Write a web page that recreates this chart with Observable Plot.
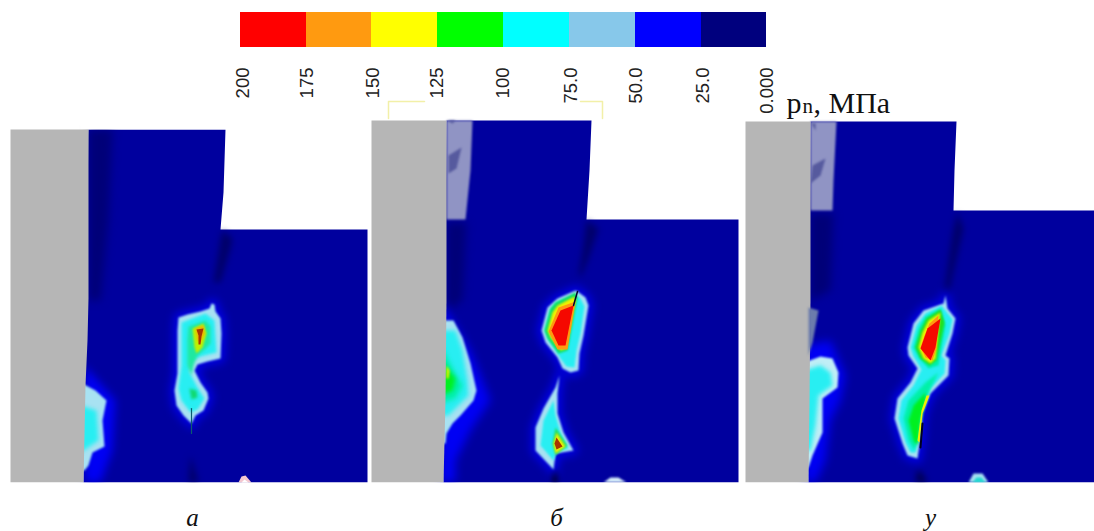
<!DOCTYPE html>
<html><head><meta charset="utf-8">
<script src="https://cdn.jsdelivr.net/npm/d3@7"></script>
<script src="https://cdn.jsdelivr.net/npm/@observablehq/plot@0.6"></script>
<style>html,body{margin:0;background:#fff}svg{display:block}</style>
</head><body><div id="c"></div>
<script>
const legendEdges=[240,306,371,437,503,569,635,701,766];
const legendColors=["#ff0000","#ff9a10","#ffff00","#00ff00","#00ffff","#87c8ea","#0000ff","#00007e"];
const legendLabels=["200","175","150","125","100","75.0","50.0","25.0","0.000"];
const legendLabelX=[243,306.5,373,437,503,571,636,703,767];
const captions=["а","б","у"];
const captionX=[192,556,930];

const BASE="#00009e",DARK="#00006a",BANDC="#000078",MID="#0000e0",GREY="#b6b6b6",PATCH="#9094c4",PATCH2="#565a9e",
LIGHT="#a8e2f2",CYAN="#28eef2",TEAL="#00f0a8",GREEN="#00f020",YEL="#f0f000",OR="#ff9a10",RED="#f50800",DRED="#a83400";

// panel а
const aBlue=[[88,129],[225,129],[223,192],[220,229],[367,229],[367,482],[83,482]];
const aGrey=[[10,129],[88,129],[88,298],[87,340],[85,385],[83,482],[10,482]];
const aBand=[[88,129],[112,129],[108,220],[100,300],[88,300]];
const aTopMask=[[80,105],[240,105],[240,129],[80,129]];
const aSeam=[[222,230],[232,238],[230,248],[220,282],[213,282],[217,258],[220,238]];
const aSeam2=[[190,455],[198,482],[188,482]];
const aCrack=[[191,408],[191,433]];
const aEdgeHalo=[[84,365],[115,400],[112,450],[100,482],[84,482]];
const aEdgeLight=[[80,382],[95,390],[106,400],[102,420],[104,446],[92,452],[88,465],[84,470],[80,470]];
const aEdgeCyan=[[80,405],[96,410],[98,440],[80,452]];
const aOuter=[[178,317],[187,314],[200,311],[209,308],[211,303],[214,304],[215,311],[220,318],[221,333],[220,358],[207,361],[197,364],[194,370],[200,382],[207,392],[208,398],[203,410],[195,415],[191,423],[183,415],[176,405],[174,390],[177,373],[177,350],[177,330]];
const aCyan=[[181,322],[205,313],[214,320],[216,352],[200,356],[190,360],[189,372],[197,387],[204,398],[197,409],[190,412],[181,400],[178,388],[181,365],[181,340]];
const aGreen=[[188,326],[205,320],[210,326],[210,343],[203,350],[197,355],[193,365],[191,375],[187,365],[187,340]];
const aGreen2=[[189,388],[196,390],[197,397],[191,399]];
const aYellow=[[192,328],[203,323],[206,333],[202,347],[196,353],[194,347]];
const aOrange=[[195,328],[203,325],[204,333],[200,342],[197,340]];
const aRed=[[196,329],[203,328],[201,336],[200,344],[198,344],[198,335]];
const aSpot=[[238,482],[241,476],[245,475],[251,482]];
const aSpot2=[[241,482],[244,479],[248,482]];

// panel б
const bBlue=[[446,120],[591,120],[589,170],[586,219],[738,219],[738,482],[443,482]];
const bGrey=[[371,120],[446,120],[446,300],[445,400],[443,482],[371,482]];
const bPatch=[[446,120],[472,120],[470,170],[465,219],[446,219]];
const bPatchDark=[[448,155],[461,147],[456,168],[448,173]];
const bPatchDark2=[[447,120],[455,120],[452,123]];
const bBand=[[446,222],[466,222],[462,300],[446,310]];
const bSeam=[[586,220],[598,228],[588,258],[581,275],[578,275],[583,245]];
const bSeam2=[[551,469],[557,469],[558,482],[551,482]];
const bEdgeHalo=[[440,300],[470,350],[490,400],[470,430],[455,460],[455,482],[440,482]];
const bEdgeLight=[[453,320],[462,337],[470,363],[476,390],[473,400],[460,415],[452,423],[446,433],[445,443],[440,443],[440,320]];
const bEdgeCyan=[[455,330],[462,350],[467,380],[468,395],[458,405],[448,415],[440,415],[440,330]];
const bEdgeTeal=[[440,345],[456,375],[462,385],[455,398],[440,403]];
const bEdgeGreen=[[440,360],[455,378],[452,390],[440,395]];
const bEdgeYellow=[[446,365],[449,370],[448,378],[446,378]];
const bOuter=[[575,290],[557,298],[547,307],[541,330],[545,342],[557,357],[562,368],[570,372],[578,370],[579,353],[583,335],[588,305],[585,297],[577,291]];
const bCyan=[[574,294],[555,302],[549,310],[544,330],[548,340],[560,358],[566,366],[574,367],[576,350],[580,333],[584,306],[580,298]];
const bGreen=[[575,292],[555,302],[550,308],[544,330],[547,338],[558,353],[567,350],[577,297]];
const bYellow=[[574,296],[557,305],[552,312],[547,330],[550,337],[560,350],[566,348],[575,300]];
const bOrange=[[558,307],[575,301],[567,349],[557,349],[548,331]];
const bRed=[[560,310],[573,305],[565,345],[558,345],[551,330]];
const bCrack=[[577,291],[573,305]];
const bLowOuter=[[559,375],[555,387],[543,408],[535,427],[535,450],[553,469],[555,453],[573,450],[563,432],[557,413],[557,393]];
const bLowCyan=[[553,400],[543,420],[540,445],[553,460],[556,451],[568,448],[560,432],[555,415]];
const bLowGreen=[[555,427],[567,445],[555,455],[552,443]];
const bLowYellow=[[556,432],[565,446],[555,453],[553,443]];
const bLowRed=[[556,437],[562,446],[556,449],[554,443]];
const bSpot=[[603,482],[610,477],[618,477],[626,482]];

// panel у
const cBlue=[[810,121],[956,121],[954,170],[953,210],[1094,210],[1094,482],[808,482]];
const cGrey=[[745,121],[810,121],[810,300],[809,400],[808,482],[745,482]];
const cPatch=[[810,121],[836,121],[833,180],[832,210],[810,210]];
const cPatchDark=[[812,165],[825,158],[820,175],[810,183]];
const cPatchDark2=[[811,123],[815,123],[815,130]];
const cBand=[[810,213],[833,213],[830,290],[810,300]];
const cSeam=[[957,212],[963,228],[947,298],[943,295],[952,232]];
const cSeam2=[[918,468],[927,482],[915,482]];
const cEdgeHalo=[[804,345],[830,340],[845,375],[840,400],[830,420],[825,460],[815,482],[804,482]];
const cEdgeLight=[[804,362],[820,356],[832,358],[838,372],[837,387],[822,398],[822,432],[812,455],[808,467],[804,467]];
const cEdgeCyan=[[804,370],[820,365],[830,372],[832,385],[818,395],[815,425],[810,450],[804,450]];
const cGreySpot=[[808,307],[818,310],[812,342],[808,355]];
const cOuter=[[945,295],[943,303],[923,310],[913,323],[907,347],[908,355],[917,368],[910,382],[897,398],[894,418],[902,443],[907,455],[917,458],[920,437],[922,413],[930,393],[948,375],[949,358],[945,355],[952,333],[955,318],[947,308]];
const cCyan=[[941,305],[925,313],[916,325],[910,347],[913,356],[921,369],[913,385],[901,400],[898,418],[905,442],[910,452],[915,452],[918,436],[920,412],[930,388],[944,373],[945,360],[941,355],[949,333],[952,319]];
const cTeal=[[925,382],[908,400],[903,418],[908,440],[914,450],[918,436],[920,412],[930,388],[938,372]];
const cTeal2=[[940,308],[925,316],[918,328],[913,347],[918,357],[928,368],[938,365],[945,325]];
const cGreen=[[925,392],[913,405],[908,420],[913,440],[917,445],[920,420],[925,400]];
const cYellowLow=[[926,395],[921,410],[917,440],[919,442],[922,413],[929,395]];
const cGreenUp=[[940,309],[926,318],[920,330],[915,347],[920,358],[929,365],[936,360],[944,322]];
const cYellow=[[940,312],[928,320],[922,332],[918,347],[923,358],[930,363],[935,358]];
const cOrange=[[938,315],[929,323],[924,335],[920,347],[925,357],[932,360],[936,348]];
const cRed=[[940,318],[927,328],[920,348],[930,360],[935,347]];
const cCrack=[[922,423],[920,447]];
const cSpot=[[968,482],[973,473],[982,473],[988,482]];
const cSpot2=[[972,482],[976,477],[981,477],[985,482]];

const bracket1=[[388,118],[388,101],[424,101]];
const bracket2=[[580,101],[602,101],[602,118]];
const pageBand=[[0,482],[1094,482],[1094,531],[0,531]];

const area=(pts,fill,blur=0.8,extra={})=>Plot.line(pts,{x:d=>d[0],y:d=>d[1],curve:"linear-closed",fill,stroke:extra.stroke||"none",strokeWidth:extra.sw||0,imageFilter:blur?`blur(${blur}px)`:undefined});
const halo=pts=>area(pts,MID,4,{stroke:MID,sw:10});
const stroke=(pts,color,w)=>Plot.line(pts,{x:d=>d[0],y:d=>d[1],stroke:color,strokeWidth:w,imageFilter:"blur(0.5px)"});
const label=(t,x,y,size,family)=>Plot.text([t],{x:()=>x,y:()=>y,text:d=>d,textAnchor:"start",fontFamily:family,fontSize:size,fill:"#111"});

const plot=Plot.plot({
  width:1094,height:531,margin:0,
  x:{domain:[0,1094],range:[0,1094],axis:null},
  y:{domain:[0,531],range:[0,531],axis:null},
  marks:[
    // panels: base
    area(aBlue,BASE,0.5),area(bBlue,BASE,0.5),area(cBlue,BASE,0.5),
    area(aBand,BANDC,4),area(bBand,BANDC,4),area(cBand,BANDC,4),
    area(aTopMask,"#ffffff",0),
    area(aSeam,DARK,3),area(bSeam,DARK,3),area(cSeam,DARK,3),
    area(aSeam2,DARK,3),area(bSeam2,"#00004a",2),area(cSeam2,"#00004a",3),
    // panel а hot spots
    area(aEdgeHalo,"#0000f4",4),area(aEdgeLight,LIGHT),area(aEdgeCyan,CYAN,2),
    halo(aOuter),area(aOuter,LIGHT),area(aCyan,CYAN,1.5),area(aGreen,"#20e8a0",1.5),area(aGreen2,"#10d870",1.5),area(aYellow,"#c0f000",1.2),area(aOrange,"#f0b000",1),area(aRed,DRED,0.7),
    stroke(aCrack,"#0a5a70",1.2),
    area(aSpot,"#f4c8d0",0.6),area(aSpot2,"#ffffff",0.6),
    // panel б hot spots
    area(bEdgeHalo,"#0000f4",5),area(bEdgeLight,LIGHT),area(bEdgeCyan,CYAN,2),area(bEdgeTeal,TEAL,2.5),area(bEdgeGreen,GREEN,2),area(bEdgeYellow,YEL,1),
    halo(bOuter),halo(bLowOuter),
    area(bOuter,LIGHT),area(bCyan,CYAN,1),area(bGreen,"#10e060",0.8),area(bYellow,YEL,0.8),area(bOrange,OR,0.6),area(bRed,RED,0.6),stroke(bCrack,"#000030",1.5),
    area(bLowOuter,LIGHT),area(bLowCyan,CYAN,1.2),area(bLowGreen,"#20e060",0.8),area(bLowYellow,YEL,0.8),area(bLowRed,DRED,0.7),
    area(bSpot,"#d8f0fa",0.8),
    // panel у hot spots
    area(cEdgeHalo,"#0000f4",5),area(cEdgeLight,"#c0eef6"),area(cEdgeCyan,CYAN,2),
    halo(cOuter),area(cOuter,LIGHT),area(cCyan,CYAN,1.2),area(cTeal,TEAL,1.5),area(cTeal2,TEAL,1),area(cGreen,GREEN,1.5),area(cYellowLow,YEL,0.7),
    area(cGreenUp,"#20e020",0.8),area(cYellow,YEL,0.8),area(cOrange,OR,0.7),area(cRed,RED,0.7),stroke(cCrack,"#000020",2),
    area(cSpot,LIGHT,0.8),area(cSpot2,"#20d8d0",0.8),
    // patches and greys
    area(bPatch,PATCH),area(bPatchDark,PATCH2,1),area(bPatchDark2,PATCH2,1),
    area(cPatch,PATCH),area(cPatchDark,PATCH2,1),area(cPatchDark2,PATCH2,1),
    area(aGrey,GREY,0.5),area(bGrey,GREY,0.5),area(cGrey,GREY,0.5),
    area(cGreySpot,"#6c7cac",1),
    area(pageBand,"#ffffff",0),
    // legend
    Plot.rect(legendColors,{x1:(d,i)=>legendEdges[i],x2:(d,i)=>legendEdges[i+1],y1:()=>12,y2:()=>47,fill:d=>d}),
    Plot.text(legendLabels,{x:(d,i)=>legendLabelX[i],y:()=>67,text:d=>d,rotate:-90,textAnchor:"end",fontFamily:"Liberation Sans",fontSize:18.5,fill:"#222"}),
    stroke(bracket1,"#f2f0a8",1.5),stroke(bracket2,"#f2f0a8",1.5),
    // labels
    label("p",786,102.4,30,"Liberation Serif"),
    label("n",802,105.3,21,"Liberation Serif"),
    label(", МПа",813,102.4,30,"Liberation Serif"),
    Plot.text(captions,{x:(d,i)=>captionX[i],y:()=>517,text:d=>d,fontFamily:"Liberation Serif",fontStyle:"italic",fontSize:25,fill:"#111"})
  ]
});
document.getElementById("c").append(plot);
</script></body></html>
